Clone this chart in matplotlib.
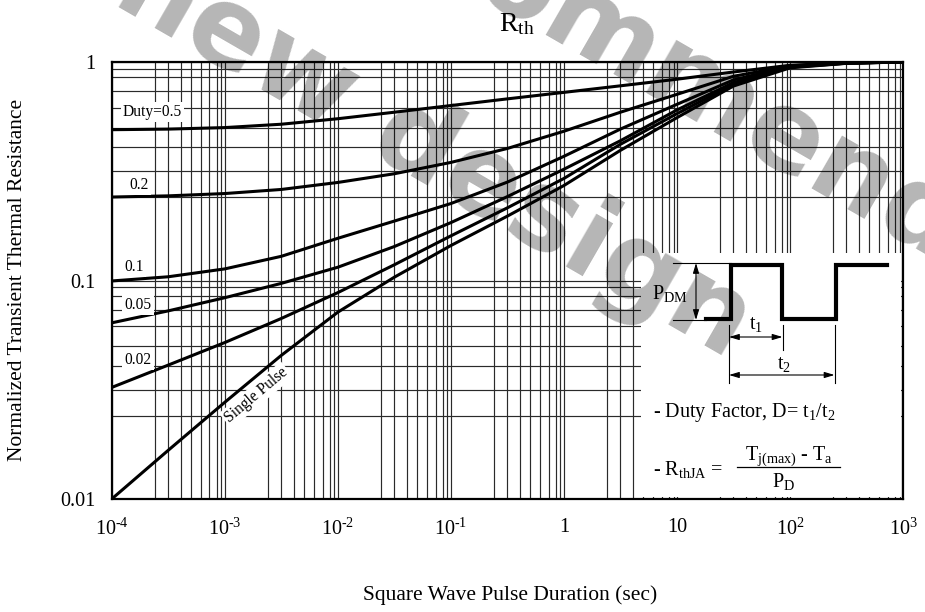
import numpy as np
import matplotlib
matplotlib.use("Agg")
import matplotlib.pyplot as plt
from matplotlib.ticker import FixedLocator, NullFormatter

# ---------------- data ----------------
# pulse duration (s), half-decade steps
T = [1e-4, 3.16e-4, 1e-3, 3.16e-3, 1e-2, 3.16e-2, 0.1, 0.316,
     1, 3.16, 10, 31.6, 100, 316, 1000]

DUTY_05 = [0.490, 0.493, 0.501, 0.519, 0.550, 0.589, 0.632, 0.678,
           0.726, 0.778, 0.834, 0.900, 0.966, 0.992, 1.0]
DUTY_02 = [0.241, 0.244, 0.250, 0.261, 0.281, 0.308, 0.347, 0.402,
           0.482, 0.589, 0.711, 0.860, 0.960, 0.990, 1.0]
DUTY_01 = [0.0995, 0.104, 0.113, 0.129, 0.156, 0.187, 0.225, 0.282,
           0.370, 0.493, 0.640, 0.828, 0.955, 0.990, 1.0]
DUTY_005 = [0.064, 0.0726, 0.0834, 0.097, 0.115, 0.143, 0.184, 0.242,
            0.323, 0.436, 0.603, 0.805, 0.950, 0.988, 1.0]
DUTY_002 = [0.0324, 0.041, 0.052, 0.067, 0.088, 0.118, 0.160, 0.215,
            0.293, 0.420, 0.580, 0.790, 0.946, 0.987, 1.0]
SINGLE = [0.0100, 0.0167, 0.0277, 0.0454, 0.0716, 0.1035, 0.1445, 0.197,
          0.272, 0.394, 0.556, 0.776, 0.940, 0.986, 1.0]

CURVES = [DUTY_05, DUTY_02, DUTY_01, DUTY_005, DUTY_002, SINGLE]

# curve captions: text, (t, Zth) anchor, rotation
CAPTIONS = [
    ("Duty=0.5", 2.3e-4, 0.59, 0),
    ("0.2", 1.75e-4, 0.274, 0),
    ("0.1", 1.57e-4, 0.115, 0),
    ("0.05", 1.71e-4, 0.0772, 0),
    ("0.02", 1.71e-4, 0.0433, 0),
    ("Single Pulse", 1.9e-3, 0.0299, 40),
]

X_TICKS = [1e-4, 1e-3, 1e-2, 1e-1, 1, 10, 1e2, 1e3]
X_LABELS = ["10$^{\u20104}$", "10$^{\u20103}$", "10$^{\u20102}$",
            "10$^{\u20101}$", "1", "10", "10$^{2}$", "10$^{3}$"]
Y_TICKS = [0.01, 0.1, 1]
Y_LABELS = ["0.01", "0.1", "1"]

# chart-paper style minor rulings inside each decade
GRID_FRAC = [0.38, 0.50, 0.61, 0.70, 0.79, 0.865, 0.93, 0.97]

# ---------------- style ----------------
plt.rcParams["font.family"] = "Liberation Serif"
plt.rcParams["mathtext.fontset"] = "custom"
plt.rcParams["mathtext.rm"] = "Liberation Serif"
plt.rcParams["mathtext.it"] = "Liberation Serif:italic"
plt.rcParams["mathtext.bf"] = "Liberation Serif:bold"
plt.rcParams["mathtext.default"] = "rm"

W, H = 925, 612
fig = plt.figure(figsize=(W / 100, H / 100), dpi=100)

L, R, TOP, BOT = 111.7, 903, 62, 499
ax = fig.add_axes([L / W, 1 - BOT / H, (R - L) / W, (BOT - TOP) / H])
ax.set_xscale("log")
ax.set_yscale("log")
ax.set_xlim(1e-4, 1e3)
ax.set_ylim(0.01, 1)

ax.set_xticks(X_TICKS)
ax.set_xticklabels(X_LABELS)
ax.set_yticks(Y_TICKS)
ax.set_yticklabels(Y_LABELS)
ax.xaxis.set_minor_locator(FixedLocator(
    [10 ** (d + f) for d in range(-4, 3) for f in GRID_FRAC]))
ax.yaxis.set_minor_locator(FixedLocator(
    [10 ** (d + f) for d in range(-2, 0) for f in GRID_FRAC]))
ax.xaxis.set_minor_formatter(NullFormatter())
ax.yaxis.set_minor_formatter(NullFormatter())
ax.tick_params(which="both", length=0)
ax.tick_params(axis="x", pad=14, labelsize=14.5)
ax.tick_params(axis="y", pad=12, labelsize=14.5)
ax.set_axisbelow(True)
ax.grid(True, which="both", color="#2a2a2a", linewidth=0.85)
for sp in ax.spines.values():
    sp.set_linewidth(1.6)
    sp.set_zorder(10)

for ys in CURVES:
    ax.plot(T, ys, color="black", linewidth=2.2, zorder=4,
            solid_capstyle="butt", solid_joinstyle="round")

for text, tx, ty, rot in CAPTIONS:
    ax.text(tx, ty, text, fontsize=11.2, ha="center", va="center",
            rotation=rot, rotation_mode="anchor", zorder=5,
            bbox=dict(facecolor="white", edgecolor="none", pad=1.5))

# ---------------- explanatory box ----------------
bx0, by0, bx1, by1 = 641, 253, 901, 497
axi = fig.add_axes([bx0 / W, 1 - by1 / H, (bx1 - bx0) / W, (by1 - by0) / H])
axi.set_xlim(0, bx1 - bx0)
axi.set_ylim(by1 - by0, 0)
axi.axis("off")
axi.add_patch(plt.Rectangle((0, 0), bx1 - bx0, by1 - by0,
                            facecolor="white", edgecolor="none", zorder=0))

# square wave
axi.plot([65, 90, 90, 141, 141, 195, 195, 246],
         [66, 66, 12, 12, 66, 66, 12, 12],
         color="black", linewidth=3.0, solid_joinstyle="miter", zorder=3)
thin = dict(color="black", linewidth=0.8)
axi.plot([32, 90], [10, 10], **thin)
axi.plot([32, 65], [67, 67], **thin)
axi.plot([88, 88], [72, 130], **thin)
axi.plot([141.5, 141.5], [72, 97], **thin)
axi.plot([193.5, 193.5], [72, 130], **thin)
arr = dict(arrowstyle="<|-|>,head_length=0.6,head_width=0.18",
           color="black", linewidth=0.8, shrinkA=0, shrinkB=0)
axi.annotate("", xy=(55, 10), xytext=(55, 67), arrowprops=arr)
axi.annotate("", xy=(88, 84), xytext=(141.5, 84), arrowprops=arr)
axi.annotate("", xy=(88, 122), xytext=(193.5, 122), arrowprops=arr)

fs = 14.5
axi.text(29, 40, r"P$_{\mathrm{DM}}$", fontsize=fs, ha="center", va="center")
axi.text(115, 71, r"t$_{1}$", fontsize=fs, ha="center", va="center")
axi.text(143, 111, r"t$_{2}$", fontsize=fs, ha="center", va="center")
axi.text(12, 160, r"- Duty Factor, D= t$_{1}$/t$_{2}$", fontsize=fs,
         ha="left", va="center")
axi.text(12, 216, r"- R$_{\mathrm{thJA}}$ =", fontsize=fs,
         ha="left", va="center")
axi.text(148, 203, r"T$_{\mathrm{j(max)}}$ - T$_{\mathrm{a}}$", fontsize=fs,
         ha="center", va="center")
axi.plot([96, 199], [214, 214], color="black", linewidth=0.9)
axi.text(143, 228, r"P$_{\mathrm{D}}$", fontsize=fs, ha="center",
         va="center")

# ---------------- titles ----------------
fig.text(517 / W, 1 - 24 / H, r"R$_{\mathrm{th}}$", fontsize=20,
         ha="center", va="center")
fig.text(510 / W, 1 - 595 / H, "Square Wave Pulse Duration (sec)",
         fontsize=15.5, ha="center", va="center")
fig.text(18 / W, 1 - 280 / H, "Normalized Transient Thermal Resistance",
         fontsize=15.5, ha="center", va="center", rotation=90)

# ---------------- watermark ----------------
# black at low alpha reads as light grey on white but leaves black ink black
wm = dict(fontsize=80, fontweight="bold", color="black", alpha=0.29,
          family="DejaVu Sans", ha="center", va="center", zorder=50)
fig.text(590 / W, 1 - 25 / H, "Not recommended", rotation=-30, **wm)
fig.text(340 / W, 1 - 100 / H, "for new design", rotation=-30, **wm)

fig.savefig("out.png", dpi=100)
